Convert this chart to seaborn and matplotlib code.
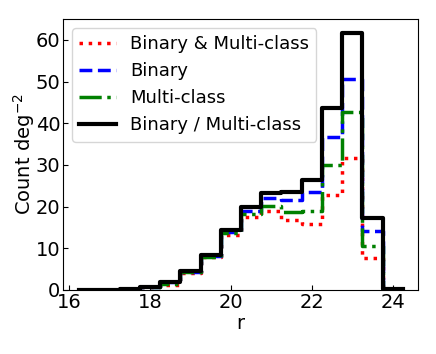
import numpy as np
import pandas as pd
import matplotlib
matplotlib.use('Agg')
import matplotlib.pyplot as plt
import seaborn as sns

# bin edges in r (0.5 mag bins)
edges = np.arange(16.25, 24.26, 0.5)
centers = edges[:-1] + 0.25

# counts per deg^2
both = [0.05, 0.05, 0.2, 0.6, 1.2, 4.0, 7.8, 13.1, 17.4, 19.0, 16.8, 15.8, 22.8, 31.6, 7.6, 0.0]
binary = [0.05, 0.1, 0.3, 0.8, 1.8, 4.4, 8.2, 13.8, 19.0, 22.0, 21.6, 23.4, 36.6, 50.6, 14.2, 0.0]
multi = [0.05, 0.1, 0.3, 0.7, 1.5, 4.2, 8.0, 13.6, 18.2, 20.2, 18.8, 19.0, 30.0, 42.8, 10.6, 0.0]
either = [0.1, 0.1, 0.3, 0.8, 2.0, 4.6, 8.4, 14.4, 19.8, 23.2, 23.6, 26.4, 43.6, 61.6, 17.2, 0.2]

series = [
    ('Binary & Multi-class', both, 'red', ':', 2.5),
    ('Binary', binary, 'blue', '--', 2.5),
    ('Multi-class', multi, 'green', '-.', 2.5),
    ('Binary / Multi-class', either, 'black', '-', 3),
]

plt.rcParams['xtick.direction'] = 'in'
plt.rcParams['ytick.direction'] = 'in'

fig, ax = plt.subplots(figsize=(4.36, 3.54), dpi=100)
fig.subplots_adjust(left=0.145, right=0.959, top=0.946, bottom=0.181)

for label, vals, col, ls, lw in series:
    df = pd.DataFrame({'r': centers, 'w': vals})
    sns.histplot(data=df, x='r', weights='w', bins=list(edges), element='step', fill=False,
                 color=col, linestyle=ls, linewidth=lw, label=label, ax=ax)

ax.set_xlim(15.85, 24.63)
ax.set_ylim(0, 65)
ax.set_xticks([16, 18, 20, 22, 24])
ax.set_yticks(range(0, 61, 10))
ax.tick_params(labelsize=14, pad=2)
ax.set_xlabel('r', fontsize=14, labelpad=2)
ax.set_ylabel('Count deg$^{-2}$', fontsize=14, labelpad=-1)
ax.legend(loc='upper left', fontsize=13)

fig.savefig('out.png', dpi=100)
